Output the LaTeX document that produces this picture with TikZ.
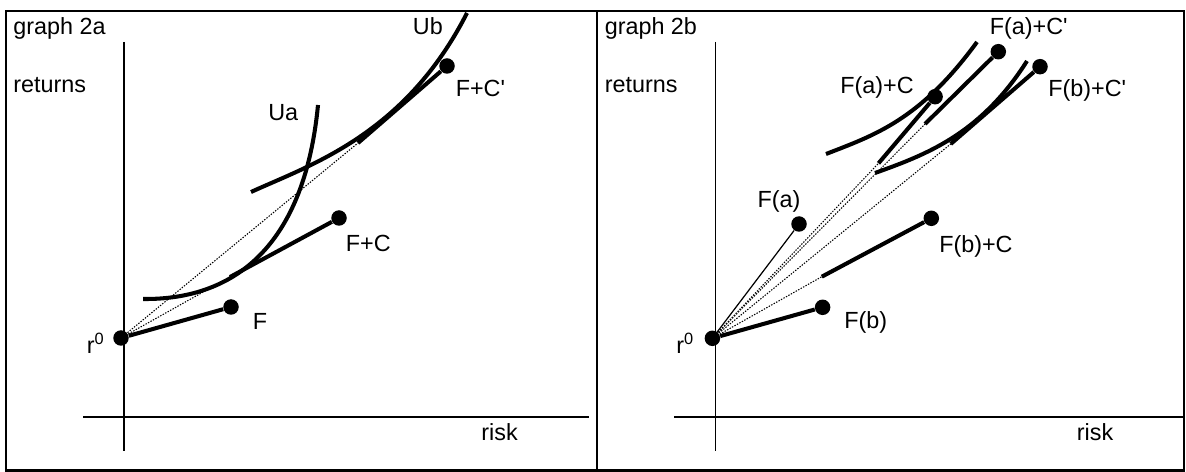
\documentclass[tikz,border=0pt]{standalone}
\usepackage{fontspec}
\setmainfont{Liberation Sans}
\usetikzlibrary{positioning}

\begin{document}
\begin{tikzpicture}[
    x=0.02cm, y=-0.02cm,
    dot/.style={circle, fill, inner sep=0pt, minimum size=0.31cm},
    lbl/.style={anchor=base west, inner sep=0pt, font=\fontsize{13.3}{15}\selectfont},
    axis/.style={line width=0.9pt},
    seg/.style={line width=2.3pt},
    thinseg/.style={line width=0.7pt},
    indiff/.style={line width=2.3pt},
    ray/.style={line width=0.6pt, dash pattern=on 0.8pt off 0.8pt},
    frame/.style={line width=1.2pt}
]
    \useasboundingbox (0,0) rectangle (1186,472);
    \draw[frame] (6,11) rectangle (597,470.5);
    \draw[frame] (597,11) rectangle (1184,470.5);

    % graph 2a
    \coordinate (ya1) at (124,42);
    \coordinate (ya2) at (124,451);
    \coordinate (xa1) at (83,417);
    \coordinate (xa2) at (589,417);
    \draw[axis] (ya1) -- (ya2);
    \draw[axis] (xa1) -- (xa2);

    \node[lbl] (titlea) at (13,34.7) {graph 2a};
    \node[lbl] (retsa) at (13,92.3) {returns};
    \node[lbl] (riska) at (481,440.5) {risk};

    \node[dot] (r0a) at (121,338) {};
    \node[dot] (fa) at (231,307) {};
    \node[dot] (fca) at (339,218) {};
    \node[dot] (fcpa) at (447,66) {};
    \coordinate (fcsa) at (230,277);
    \coordinate (fcpsa) at (358,143);

    \draw[ray] (r0a.center) -- (fcsa);
    \draw[ray] (r0a.center) -- (fcpsa);
    \draw[seg] (r0a) -- (fa);
    \draw[seg] (fcsa) -- (fca);
    \draw[seg] (fcpsa) -- (fcpa);
    \draw[indiff] (143,299) .. controls (240,300) and (305,240) .. (318,105);
    \draw[indiff] (251,192) .. controls (310,165) and (405,135) .. (467,13);

    \node[lbl] (r0lbla) at (86.5,353.3) {r\textsuperscript{0}};
    \node[lbl] (flbl) at (252.6,329.3) {F};
    \node[lbl] (fclbl) at (345.6,251.7) {F+C};
    \node[lbl] (fcplbl) at (455.4,96.7) {F+C\textquotesingle};
    \node[lbl] (ualbl) at (268,120.7) {Ua};
    \node[lbl] (ublbl) at (412.6,35) {Ub};

    % graph 2b
    \coordinate (yb1) at (715.4,42);
    \coordinate (yb2) at (715.4,451);
    \coordinate (xb1) at (674.4,417);
    \coordinate (xb2) at (1183,417);
    \draw[axis] (yb1) -- (yb2);
    \draw[axis] (xb1) -- (xb2);

    \node[lbl] (titleb) at (604.4,34.7) {graph 2b};
    \node[lbl] (retsb) at (604.4,92.3) {returns};
    \node[lbl] (riskb) at (1076.5,440.5) {risk};

    \node[dot] (r0b) at (712.4,338.3) {};
    \node[dot] (fbb) at (822.6,307.3) {};
    \node[dot] (fab) at (799,224) {};
    \node[dot] (fbcb) at (931.3,218.3) {};
    \node[dot] (facb) at (935.1,96.7) {};
    \node[dot] (facpb) at (998.3,51.7) {};
    \node[dot] (fbcpb) at (1040,66.7) {};
    \coordinate (fbcs) at (821.8,276.7);
    \coordinate (facs) at (878.5,163.3);
    \coordinate (facps) at (925,124);
    \coordinate (fbcps) at (950.7,144);

    \draw[ray] (r0b.center) -- (fbcs);
    \draw[ray] (r0b.center) -- (facs);
    \draw[ray] (r0b.center) -- (facps);
    \draw[ray] (r0b.center) -- (fbcps);
    \draw[thinseg] (r0b.center) -- (fab);
    \draw[seg] (r0b) -- (fbb);
    \draw[seg] (fbcs) -- (fbcb);
    \draw[seg] (facs) -- (facb);
    \draw[seg] (facps) -- (facpb);
    \draw[seg] (fbcps) -- (fbcpb);
    \draw[indiff] (826,154) .. controls (875,135) and (920,120) .. (977,42);
    \draw[indiff] (875,173) .. controls (925,155) and (980,135) .. (1027,61);

    \node[lbl] (r0lblb) at (675.9,353.3) {r\textsuperscript{0}};
    \node[lbl] (fblbl) at (843.9,328.3) {F(b)};
    \node[lbl] (falbl) at (757.2,207.3) {F(a)};
    \node[lbl] (fbclbl) at (938.9,252.3) {F(b)+C};
    \node[lbl] (faclbl) at (840,94) {F(a)+C};
    \node[lbl] (facplbl) at (989.5,35) {F(a)+C\textquotesingle};
    \node[lbl] (fbcplbl) at (1048,96.7) {F(b)+C\textquotesingle};
\end{tikzpicture}
\end{document}
